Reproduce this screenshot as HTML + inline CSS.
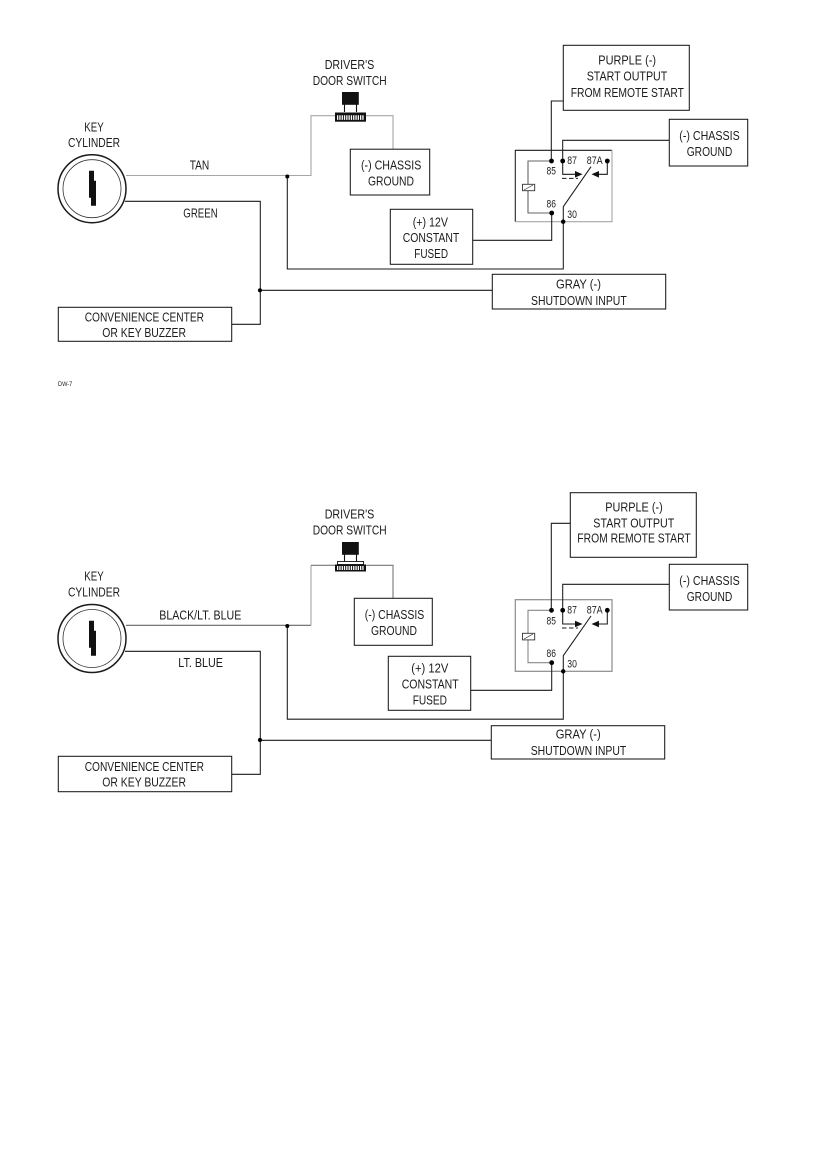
<!DOCTYPE html>
<html lang="en">
<head>
<meta charset="utf-8">
<title>Wiring diagrams</title>
<style>
html,body{margin:0;padding:0;background:#fff}
svg{display:block}
text{font-family:"Liberation Sans",sans-serif;font-size:12.6px;fill:#1c1c1c}
.n{font-size:10.6px}
.w{fill:none;stroke:#1a1a1a;stroke-width:1.05}
.g{fill:none;stroke:#a6a6a6;stroke-width:1.1}
.b{fill:#fff;stroke:#1a1a1a;stroke-width:1.05}
</style>
</head>
<body>
<svg xmlns="http://www.w3.org/2000/svg" width="835" height="1159" viewBox="0 0 835 1159">
<rect width="835" height="1159" fill="#fff"/>

<!-- TOP DIAGRAM -->
<circle cx="92" cy="188.7" r="34" fill="#fff" stroke="#1a1a1a" stroke-width="1.5"/>
<circle cx="92" cy="188.7" r="29" fill="#fff" stroke="#333" stroke-width="0.8"/>
<polygon points="89,170.7 94,170.7 94,180.7 96,180.7 96,205.7 91,205.7 91,197.7 89,197.7" fill="#111"/>
<polyline class="g" points="126,175.5 311,175.5 311,115.7 336,115.7"/>
<polyline class="g" points="365,115.7 393,115.7 393,149"/>
<polyline class="w" points="125,201.3 260.3,201.3 260.3,324.3 232,324.3"/>
<polyline class="w" points="287.3,176.5 287.3,269 563.3,269 563.3,206.7 591,166.7"/>
<line class="w" x1="260.3" y1="290.3" x2="492.5" y2="290.3"/>
<circle cx="287.3" cy="176.5" r="2"/>
<circle cx="260" cy="290.3" r="2.1"/>
<rect x="342" y="92" width="16.8" height="12.8" fill="#111"/>
<path d="M344.5 104v8M356.5 104v8" stroke="#111" stroke-width="1.1"/>
<rect x="335" y="112.5" width="31" height="9.2" fill="#111"/>
<line x1="337" y1="117.6" x2="364.3" y2="117.6" stroke="#fff" stroke-width="4.6" stroke-dasharray="1.3 1"/>
<rect class="b" x="350.3" y="149.2" width="79.4" height="45.8"/>
<rect class="b" x="390.3" y="209.3" width="82.4" height="55"/>
<rect class="b" x="58.3" y="307.3" width="173.4" height="34"/>
<rect class="b" x="492.3" y="274.3" width="173.4" height="34.7"/>
<rect class="b" x="563.3" y="45.3" width="126" height="65"/>
<rect class="b" x="669.3" y="119.3" width="78.4" height="46.7"/>
<path d="M515.3 221.7V150.3H612" class="w" stroke-width="1"/>
<path d="M612 150.3V221.7H515.3" class="g" stroke-width="1.2"/>
<polyline class="w" points="563.3,101 551.3,101 551.3,161"/>
<polyline class="w" points="669.3,140.3 562.7,140.3 562.7,174.3 578,174.3"/>
<polyline class="w" points="607.3,161 607.3,174.3 596,174.3"/>
<polygon points="582.5,174.3 575,171 575,177.6" fill="#111"/>
<polygon points="591.5,174.3 599,171 599,177.6" fill="#111"/>
<line class="w" x1="562" y1="178.4" x2="578" y2="178.4" stroke-dasharray="4.5 2.5"/>
<polyline points="551.3,161 528,161 528,213 551.7,213" fill="none" stroke="#666" stroke-width="1.1"/>
<rect x="522.5" y="184.3" width="12.2" height="6.4" fill="#fff" stroke="#333" stroke-width="0.9"/>
<line x1="524" y1="190" x2="533" y2="185" stroke="#333" stroke-width="0.7"/>
<polyline class="w" points="551.7,213 551.7,240.3 472.7,240.3"/>
<circle cx="551.5" cy="161" r="2.4"/><circle cx="562.7" cy="161" r="2.4"/>
<circle cx="607.3" cy="161" r="2.4"/><circle cx="551.7" cy="213" r="2.4"/>
<circle cx="563.2" cy="221.7" r="2.2"/>

<text x="324.7" y="69" textLength="49.6" lengthAdjust="spacingAndGlyphs">DRIVER'S</text>
<text x="312.7" y="85" textLength="74" lengthAdjust="spacingAndGlyphs">DOOR SWITCH</text>
<text x="84.3" y="131.3" textLength="19.4" lengthAdjust="spacingAndGlyphs">KEY</text>
<text x="68" y="147" textLength="52" lengthAdjust="spacingAndGlyphs">CYLINDER</text>
<text x="189.7" y="169.3" textLength="19.6" lengthAdjust="spacingAndGlyphs">TAN</text>
<text x="183.3" y="217.3" textLength="34.4" lengthAdjust="spacingAndGlyphs">GREEN</text>
<text x="84.7" y="321.7" textLength="119.3" lengthAdjust="spacingAndGlyphs">CONVENIENCE CENTER</text>
<text x="102.3" y="337" textLength="83.7" lengthAdjust="spacingAndGlyphs">OR KEY BUZZER</text>
<text x="361" y="169.7" textLength="60.3" lengthAdjust="spacingAndGlyphs">(-) CHASSIS</text>
<text x="368" y="185.3" textLength="46" lengthAdjust="spacingAndGlyphs">GROUND</text>
<text x="58" y="386" textLength="14.3" lengthAdjust="spacingAndGlyphs" style="font-size:6px">DW-7</text>
<text x="598.3" y="64.3" textLength="57.7" lengthAdjust="spacingAndGlyphs">PURPLE (-)</text>
<text x="586.7" y="80.7" textLength="80.6" lengthAdjust="spacingAndGlyphs">START OUTPUT</text>
<text x="570.7" y="97" textLength="113.3" lengthAdjust="spacingAndGlyphs">FROM REMOTE START</text>
<text x="679.3" y="140" textLength="60.4" lengthAdjust="spacingAndGlyphs">(-) CHASSIS</text>
<text x="686.7" y="156" textLength="45.6" lengthAdjust="spacingAndGlyphs">GROUND</text>
<text x="412.7" y="226.3" textLength="35.3" lengthAdjust="spacingAndGlyphs">(+) 12V</text>
<text x="402.7" y="242" textLength="56.6" lengthAdjust="spacingAndGlyphs">CONSTANT</text>
<text x="414.3" y="258" textLength="33.7" lengthAdjust="spacingAndGlyphs">FUSED</text>
<text x="556" y="288.7" textLength="45" lengthAdjust="spacingAndGlyphs">GRAY (-)</text>
<text x="531" y="305" textLength="95.7" lengthAdjust="spacingAndGlyphs">SHUTDOWN INPUT</text>
<text class="n" x="546.5" y="174.7" textLength="9.4" lengthAdjust="spacingAndGlyphs">85</text>
<text class="n" x="546.5" y="207.7" textLength="9.4" lengthAdjust="spacingAndGlyphs">86</text>
<text class="n" x="567.3" y="164" textLength="9.6" lengthAdjust="spacingAndGlyphs">87</text>
<text class="n" x="586.7" y="164" textLength="16" lengthAdjust="spacingAndGlyphs">87A</text>
<text class="n" x="567.3" y="218" textLength="9.6" lengthAdjust="spacingAndGlyphs">30</text>

<!-- BOTTOM DIAGRAM -->
<circle cx="92" cy="638.5" r="34" fill="#fff" stroke="#1a1a1a" stroke-width="1.5"/>
<circle cx="92" cy="638.5" r="29" fill="#fff" stroke="#333" stroke-width="0.8"/>
<polygon points="89,620.7 94,620.7 94,630.7 96,630.7 96,655.7 91,655.7 91,647.7 89,647.7" fill="#111"/>
<polyline points="126,625.3 311,625.3" fill="none" stroke="#666" stroke-width="1.1"/>
<polyline class="g" points="311,625.3 311,565.3"/>
<polyline points="311,565.3 336,565.3" fill="none" stroke="#777" stroke-width="1.1"/>
<polyline points="365,565.3 393,565.3 393,598.3" fill="none" stroke="#777" stroke-width="1.1"/>
<polyline class="w" points="125,651.3 260.3,651.3 260.3,774.3 232,774.3"/>
<polyline class="w" points="287.3,626 287.3,719.2 563.3,719.2 563.3,655.7 591,616"/>
<line class="w" x1="260.3" y1="740.3" x2="491.5" y2="740.3"/>
<circle cx="287.3" cy="626" r="2"/>
<circle cx="260" cy="740" r="2.1"/>
<rect x="342" y="542" width="16.8" height="12.8" fill="#111"/>
<path d="M344.5 554v9M356.5 554v9" stroke="#111" stroke-width="1.1"/>
<rect x="337.5" y="561.5" width="26" height="3" fill="#fff" stroke="#111" stroke-width="0.9"/>
<rect x="335" y="564.5" width="31" height="7" fill="#111"/>
<line x1="337" y1="568" x2="364.3" y2="568" stroke="#fff" stroke-width="4" stroke-dasharray="1.3 1"/>
<rect class="b" x="354.3" y="598.3" width="78" height="47"/>
<rect class="b" x="388.3" y="656.3" width="82.4" height="54"/>
<rect class="b" x="58.3" y="756.3" width="173.4" height="35.4"/>
<rect class="b" x="491.3" y="725.7" width="173.4" height="33.3"/>
<rect class="b" x="570.3" y="492.7" width="126" height="64.6"/>
<rect class="b" x="669.3" y="564.3" width="78.4" height="45.7"/>
<rect x="515.3" y="599.7" width="96.7" height="71.6" fill="none" stroke="#8a8a8a" stroke-width="1.2"/>
<polyline class="w" points="570.3,523.3 551.3,523.3 551.3,610.3"/>
<polyline class="w" points="669.3,584.3 562.7,584.3 562.7,624 578,624"/>
<polyline class="w" points="607.3,610.3 607.3,624 596,624"/>
<polygon points="582.5,624 575,620.7 575,627.3" fill="#111"/>
<polygon points="591.5,624 599,620.7 599,627.3" fill="#111"/>
<line class="w" x1="562" y1="628" x2="578" y2="628" stroke-dasharray="4.5 2.5"/>
<polyline points="551.3,610.3 528,610.3 528,662.7 551.7,662.7" fill="none" stroke="#888" stroke-width="1.1"/>
<rect x="522.5" y="633.3" width="12.2" height="6.6" fill="#fff" stroke="#333" stroke-width="0.9"/>
<line x1="524" y1="639" x2="533" y2="634" stroke="#333" stroke-width="0.7"/>
<polyline class="w" points="551.7,662.7 551.7,690.3 470.7,690.3"/>
<circle cx="551.5" cy="610.3" r="2.4"/><circle cx="562.7" cy="610.3" r="2.4"/>
<circle cx="607.3" cy="610.3" r="2.4"/><circle cx="551.7" cy="662.7" r="2.4"/>
<circle cx="563.2" cy="671.3" r="2.2"/>

<text x="324.7" y="518.7" textLength="49.6" lengthAdjust="spacingAndGlyphs">DRIVER'S</text>
<text x="312.7" y="534.3" textLength="74" lengthAdjust="spacingAndGlyphs">DOOR SWITCH</text>
<text x="84.3" y="580.7" textLength="19.4" lengthAdjust="spacingAndGlyphs">KEY</text>
<text x="68" y="596.7" textLength="52" lengthAdjust="spacingAndGlyphs">CYLINDER</text>
<text x="159.3" y="619.3" textLength="82" lengthAdjust="spacingAndGlyphs">BLACK/LT. BLUE</text>
<text x="178.3" y="667" textLength="44.7" lengthAdjust="spacingAndGlyphs">LT. BLUE</text>
<text x="84.7" y="771" textLength="119.3" lengthAdjust="spacingAndGlyphs">CONVENIENCE CENTER</text>
<text x="102.3" y="786.7" textLength="83.7" lengthAdjust="spacingAndGlyphs">OR KEY BUZZER</text>
<text x="364.7" y="619" textLength="59.6" lengthAdjust="spacingAndGlyphs">(-) CHASSIS</text>
<text x="371" y="635" textLength="46" lengthAdjust="spacingAndGlyphs">GROUND</text>
<text x="605.3" y="511.7" textLength="57.4" lengthAdjust="spacingAndGlyphs">PURPLE (-)</text>
<text x="593.3" y="527.7" textLength="81" lengthAdjust="spacingAndGlyphs">START OUTPUT</text>
<text x="577.3" y="542.7" textLength="113.4" lengthAdjust="spacingAndGlyphs">FROM REMOTE START</text>
<text x="679.3" y="585" textLength="60.4" lengthAdjust="spacingAndGlyphs">(-) CHASSIS</text>
<text x="686.7" y="601" textLength="45.6" lengthAdjust="spacingAndGlyphs">GROUND</text>
<text x="411.3" y="672.7" textLength="37" lengthAdjust="spacingAndGlyphs">(+) 12V</text>
<text x="401.7" y="688.7" textLength="57" lengthAdjust="spacingAndGlyphs">CONSTANT</text>
<text x="412.7" y="704.7" textLength="34.3" lengthAdjust="spacingAndGlyphs">FUSED</text>
<text x="555.7" y="738.7" textLength="45" lengthAdjust="spacingAndGlyphs">GRAY (-)</text>
<text x="530.7" y="755" textLength="95.6" lengthAdjust="spacingAndGlyphs">SHUTDOWN INPUT</text>
<text class="n" x="546.5" y="624.3" textLength="9.4" lengthAdjust="spacingAndGlyphs">85</text>
<text class="n" x="546.5" y="657" textLength="9.4" lengthAdjust="spacingAndGlyphs">86</text>
<text class="n" x="567.3" y="613.3" textLength="9.6" lengthAdjust="spacingAndGlyphs">87</text>
<text class="n" x="586.7" y="613.3" textLength="16" lengthAdjust="spacingAndGlyphs">87A</text>
<text class="n" x="567.3" y="667.3" textLength="9.6" lengthAdjust="spacingAndGlyphs">30</text>
</svg>
</body>
</html>
